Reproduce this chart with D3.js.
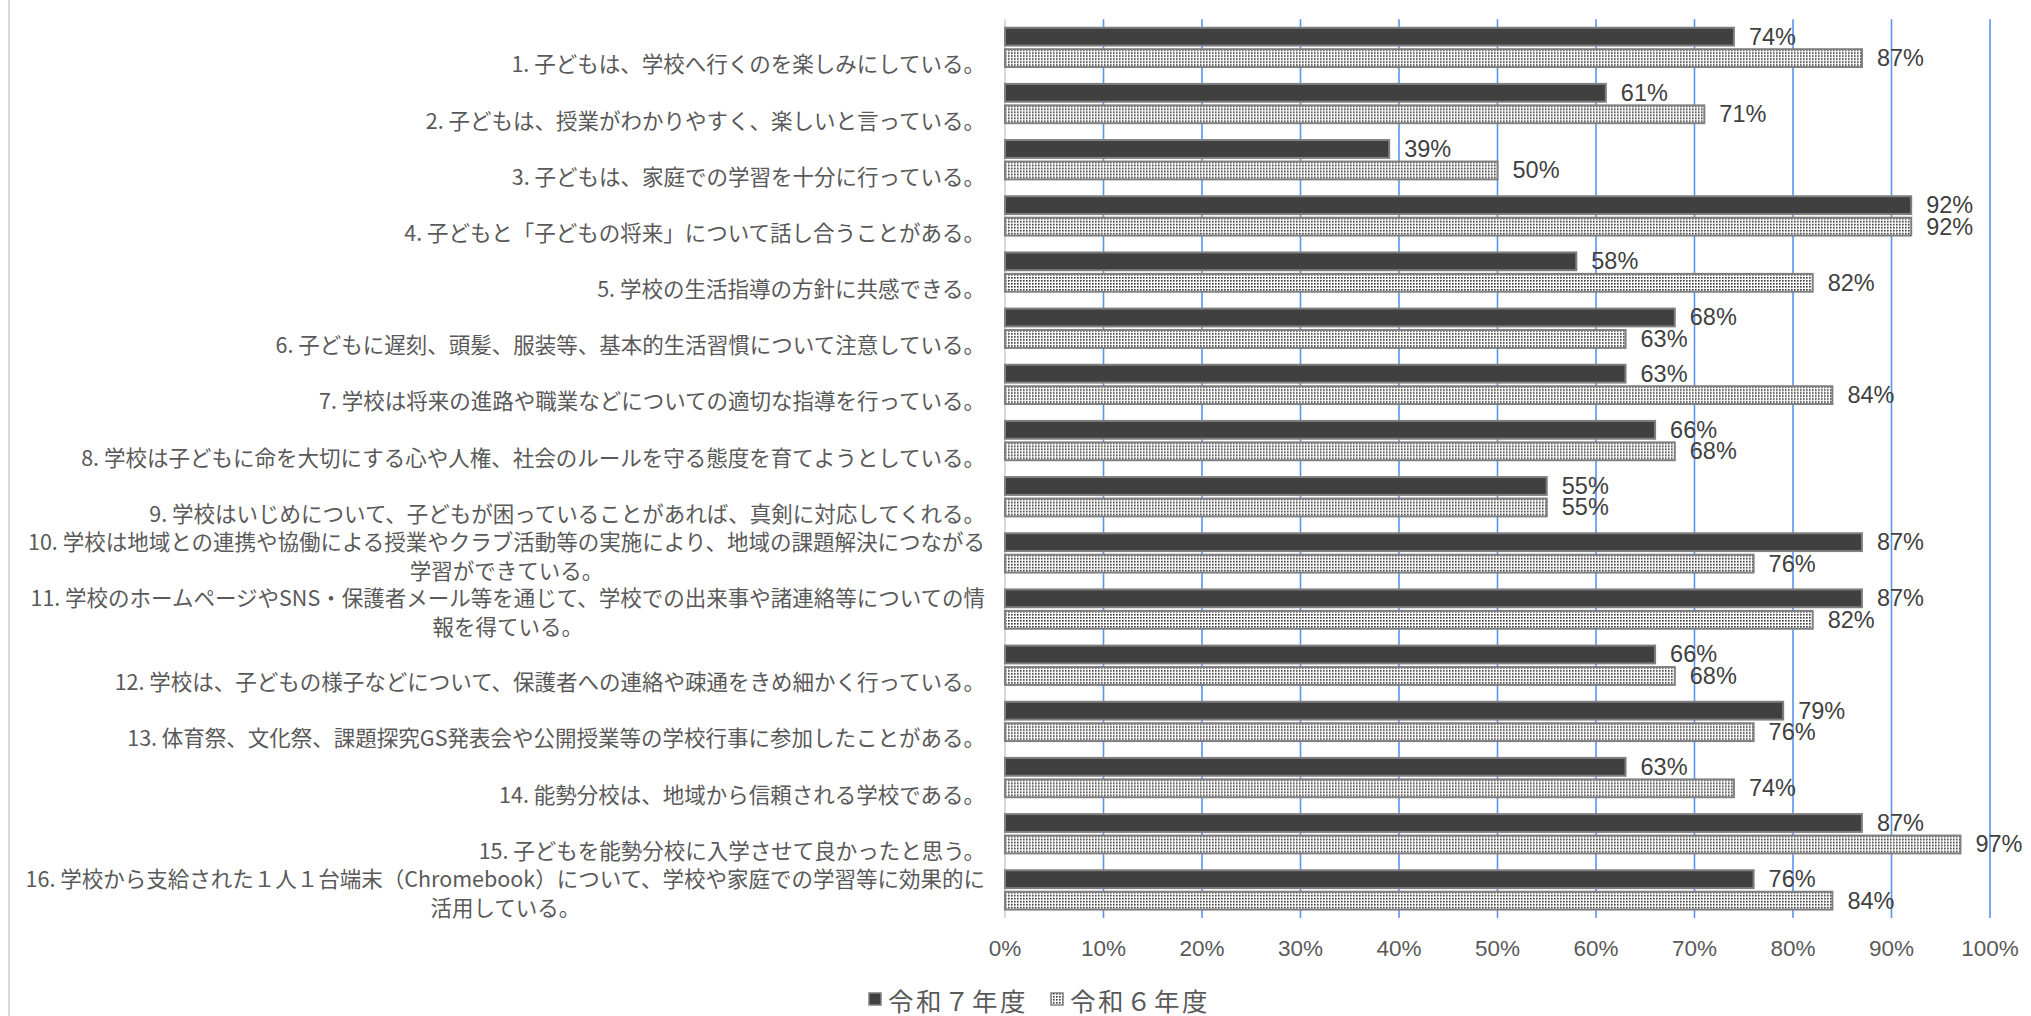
<!DOCTYPE html>
<html>
<head>
<meta charset="utf-8">
<script src="https://cdn.jsdelivr.net/npm/d3@7"></script>
<style>
    body { margin: 0; background: #fff; }
    svg { display: block; }
</style>
</head>
<body>
<div id="chart"></div>
<script>
const categories = [
    "1. 子どもは、学校へ行くのを楽しみにしている。",
    "2. 子どもは、授業がわかりやすく、楽しいと言っている。",
    "3. 子どもは、家庭での学習を十分に行っている。",
    "4. 子どもと「子どもの将来」について話し合うことがある。",
    "5. 学校の生活指導の方針に共感できる。",
    "6. 子どもに遅刻、頭髪、服装等、基本的生活習慣について注意している。",
    "7. 学校は将来の進路や職業などについての適切な指導を行っている。",
    "8. 学校は子どもに命を大切にする心や人権、社会のルールを守る態度を育てようとしている。",
    "9. 学校はいじめについて、子どもが困っていることがあれば、真剣に対応してくれる。",
    "10. 学校は地域との連携や協働による授業やクラブ活動等の実施により、地域の課題解決につながる\n学習ができている。",
    "11. 学校のホームページやSNS・保護者メール等を通じて、学校での出来事や諸連絡等についての情\n報を得ている。",
    "12. 学校は、子どもの様子などについて、保護者への連絡や疎通をきめ細かく行っている。",
    "13. 体育祭、文化祭、課題探究GS発表会や公開授業等の学校行事に参加したことがある。",
    "14. 能勢分校は、地域から信頼される学校である。",
    "15. 子どもを能勢分校に入学させて良かったと思う。",
    "16. 学校から支給された１人１台端末（Chromebook）について、学校や家庭での学習等に効果的に\n活用している。"
];

const seriesNames = ["令和７年度", "令和６年度"];

const reiwa7 = [74, 61, 39, 92, 58, 68, 63, 66, 55, 87, 87, 66, 79, 63, 87, 76];
const reiwa6 = [87, 71, 50, 92, 82, 63, 84, 68, 55, 76, 82, 68, 76, 74, 97, 84];

const xTicks = [0, 10, 20, 30, 40, 50, 60, 70, 80, 90, 100];

const width = 2031, height = 1016;
const plot = { left: 1005, right: 1990, top: 19.3, bottom: 918 };

const svg = d3.select("#chart")
    .append("svg")
    .attr("width", width)
    .attr("height", height);

// fill patterns
const defs = svg.append("defs");
const dots = defs.append("pattern")
    .attr("id", "dots")
    .attr("width", 3)
    .attr("height", 3)
    .attr("patternUnits", "userSpaceOnUse");
dots.append("rect").attr("width", 3).attr("height", 3).attr("fill", "#fff");
dots.append("rect").attr("width", 1.6).attr("height", 1.6).attr("fill", "#333");

const fills = { "令和７年度": "#404040", "令和６年度": "url(#dots)" };

// chart frame on the left edge
svg.append("line")
    .attr("x1", 9).attr("x2", 9)
    .attr("y1", 0).attr("y2", height)
    .attr("stroke", "#d9d9d9")
    .attr("stroke-width", 2);

const x = d3.scaleLinear().domain([0, 100]).range([plot.left, plot.right]);
const y = d3.scaleBand().domain(categories).range([plot.top, plot.bottom]);
const bw = y.bandwidth();
const ySub = d3.scaleBand()
    .domain(seriesNames)
    .range([bw * 0.15, bw * 0.85])
    .paddingInner(0.17);

// gridlines
svg.append("g")
    .selectAll("line")
    .data(xTicks.filter(d => d > 0))
    .enter()
    .append("line")
    .attr("x1", d => x(d)).attr("x2", d => x(d))
    .attr("y1", plot.top).attr("y2", plot.bottom)
    .attr("stroke", "#5b93ef")
    .attr("stroke-width", 1.6);

// category axis line
svg.append("line")
    .attr("x1", x(0)).attr("x2", x(0))
    .attr("y1", plot.top).attr("y2", plot.bottom)
    .attr("stroke", "#d9d9d9")
    .attr("stroke-width", 2);

const rows = categories.map((c, i) => ({
    cat: c,
    vals: [
        { s: seriesNames[0], v: reiwa7[i] },
        { s: seriesNames[1], v: reiwa6[i] }
    ]
}));

const groups = svg.append("g")
    .selectAll("g")
    .data(rows)
    .enter()
    .append("g")
    .attr("transform", d => `translate(0, ${y(d.cat)})`);

groups.selectAll("rect")
    .data(d => d.vals)
    .enter()
    .append("rect")
    .attr("x", x(0))
    .attr("y", d => ySub(d.s))
    .attr("width", d => x(d.v) - x(0))
    .attr("height", ySub.bandwidth())
    .attr("fill", d => fills[d.s])
    .attr("stroke", "#7f7f7f")
    .attr("stroke-width", 2);

groups.selectAll("text.val")
    .data(d => d.vals)
    .enter()
    .append("text")
    .attr("class", "val")
    .attr("x", d => x(d.v) + 15)
    .attr("y", d => ySub(d.s) + ySub.bandwidth() / 2)
    .attr("dominant-baseline", "central")
    .style("font-family", "'Liberation Sans', Arial, sans-serif")
    .style("font-size", "23.5px")
    .style("fill", "#404040")
    .text(d => d.v + "%");

// category labels
const labelRight = 985;
categories.forEach(c => {
    const lines = c.split("\n");
    const cy = y(c) + bw / 2;
    const t = svg.append("text")
        .style("font-family", "'Noto Sans CJK JP', sans-serif")
        .style("font-size", "21.5px")
        .style("fill", "#595959")
        .attr("text-anchor", "middle")
        .attr("dominant-baseline", "central");
    const spans = lines.map((ln, i) => t.append("tspan")
        .attr("y", lines.length === 1 ? cy + 15 : cy - 13 + i * 29)
        .text(ln));
    const maxW = d3.max(spans, s => s.node().getComputedTextLength());
    spans.forEach(s => s.attr("x", labelRight - maxW / 2));
});

// x tick labels
svg.append("g")
    .selectAll("text")
    .data(xTicks)
    .enter()
    .append("text")
    .attr("x", d => x(d))
    .attr("y", 948)
    .attr("text-anchor", "middle")
    .attr("dominant-baseline", "central")
    .style("font-family", "'Liberation Sans', Arial, sans-serif")
    .style("font-size", "22.5px")
    .style("fill", "#595959")
    .text(d => d + "%");

// legend
const legend = svg.append("g");
const legendX = [868, 1050];
seriesNames.forEach((s, i) => {
    legend.append("rect")
        .attr("x", legendX[i] + 1)
        .attr("y", 993)
        .attr("width", 12)
        .attr("height", 12)
        .attr("fill", fills[s])
        .attr("stroke", "#7f7f7f")
        .attr("stroke-width", 1.5);
    legend.append("text")
        .attr("x", legendX[i] + 20)
        .attr("y", 999)
        .attr("dominant-baseline", "central")
        .style("font-family", "'Noto Sans CJK JP', sans-serif")
        .style("font-size", "25.5px")
        .style("letter-spacing", "2.5px")
        .style("fill", "#595959")
        .text(s);
});
</script>
</body>
</html>
